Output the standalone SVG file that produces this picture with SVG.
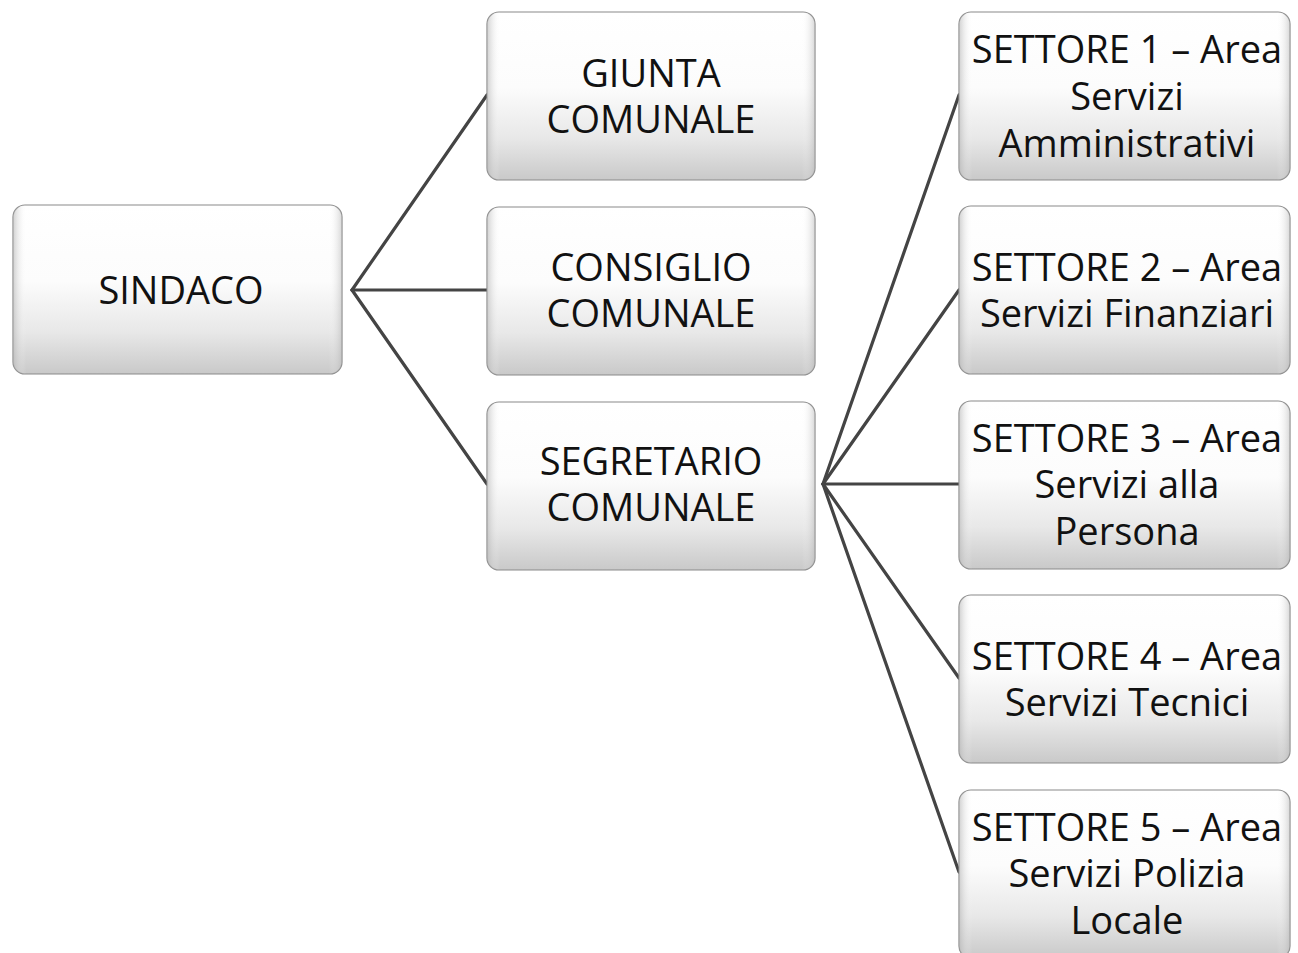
<svg xmlns="http://www.w3.org/2000/svg" width="1298" height="953" viewBox="0 0 1298 953">
  <defs>
    <linearGradient id="boxfill" x1="0" y1="0" x2="0" y2="1">
      <stop offset="0" stop-color="#ffffff"/>
      <stop offset="0.45" stop-color="#fcfcfc"/>
      <stop offset="0.75" stop-color="#e8e8e8"/>
      <stop offset="1" stop-color="#c9c9c9"/>
    </linearGradient>
    <linearGradient id="leftshade" x1="0" y1="0" x2="1" y2="0">
      <stop offset="0" stop-color="#b0b0b0" stop-opacity="0.6"/>
      <stop offset="0.04" stop-color="#ffffff" stop-opacity="0"/>
      <stop offset="0.96" stop-color="#ffffff" stop-opacity="0"/>
      <stop offset="1" stop-color="#b0b0b0" stop-opacity="0.5"/>
    </linearGradient>
  </defs>
  <style>
    .box { fill: url(#boxfill); stroke: #8a8a8a; stroke-width: 1.2; }
    .shade { fill: url(#leftshade); stroke: none; }
    .lbl { font-family: "Open Sans", "Noto Sans", sans-serif; font-size: 38px; fill: #111; text-anchor: middle; }
    .conn { stroke: #444; stroke-width: 3.2; fill: none; stroke-linecap: round; }
  </style>
  <rect width="1298" height="953" fill="#ffffff"/>

  <g id="connectors">
    <line class="conn" x1="352" y1="290" x2="487" y2="95"/>
    <line class="conn" x1="352" y1="290" x2="487" y2="290"/>
    <line class="conn" x1="352" y1="290" x2="487" y2="484"/>
    <line class="conn" x1="823" y1="484" x2="959" y2="95"/>
    <line class="conn" x1="823" y1="484" x2="959" y2="290"/>
    <line class="conn" x1="823" y1="484" x2="959" y2="484"/>
    <line class="conn" x1="823" y1="484" x2="959" y2="678"/>
    <line class="conn" x1="823" y1="484" x2="959" y2="872"/>
  </g>

  <g id="sindaco">
    <rect class="box" x="13" y="205" width="329" height="169" rx="12"/>
    <rect class="shade" x="13" y="205" width="329" height="169" rx="12"/>
    <text class="lbl" x="181" y="304" font-size="40">SINDACO</text>
  </g>

  <g id="giunta">
    <rect class="box" x="487" y="12" width="328" height="168" rx="12"/>
    <rect class="shade" x="487" y="12" width="328" height="168" rx="12"/>
    <text class="lbl" x="651" y="87">GIUNTA</text>
    <text class="lbl" x="651" y="133">COMUNALE</text>
  </g>

  <g id="consiglio">
    <rect class="box" x="487" y="207" width="328" height="168" rx="12"/>
    <rect class="shade" x="487" y="207" width="328" height="168" rx="12"/>
    <text class="lbl" x="651" y="281">CONSIGLIO</text>
    <text class="lbl" x="651" y="327">COMUNALE</text>
  </g>

  <g id="segretario">
    <rect class="box" x="487" y="402" width="328" height="168" rx="12"/>
    <rect class="shade" x="487" y="402" width="328" height="168" rx="12"/>
    <text class="lbl" x="651" y="475">SEGRETARIO</text>
    <text class="lbl" x="651" y="521">COMUNALE</text>
  </g>

  <g id="settore1">
    <rect class="box" x="959" y="12" width="331" height="168" rx="12"/>
    <rect class="shade" x="959" y="12" width="331" height="168" rx="12"/>
    <text class="lbl" x="1127" y="63">SETTORE 1 – Area</text>
    <text class="lbl" x="1127" y="110">Servizi</text>
    <text class="lbl" x="1127" y="157">Amministrativi</text>
  </g>

  <g id="settore2">
    <rect class="box" x="959" y="206" width="331" height="168" rx="12"/>
    <rect class="shade" x="959" y="206" width="331" height="168" rx="12"/>
    <text class="lbl" x="1127" y="281">SETTORE 2 – Area</text>
    <text class="lbl" x="1127" y="327">Servizi Finanziari</text>
  </g>

  <g id="settore3">
    <rect class="box" x="959" y="401" width="331" height="168" rx="12"/>
    <rect class="shade" x="959" y="401" width="331" height="168" rx="12"/>
    <text class="lbl" x="1127" y="452">SETTORE 3 – Area</text>
    <text class="lbl" x="1127" y="498">Servizi alla</text>
    <text class="lbl" x="1127" y="545">Persona</text>
  </g>

  <g id="settore4">
    <rect class="box" x="959" y="595" width="331" height="168" rx="12"/>
    <rect class="shade" x="959" y="595" width="331" height="168" rx="12"/>
    <text class="lbl" x="1127" y="670">SETTORE 4 – Area</text>
    <text class="lbl" x="1127" y="716">Servizi Tecnici</text>
  </g>

  <g id="settore5">
    <rect class="box" x="959" y="790" width="331" height="168" rx="12"/>
    <rect class="shade" x="959" y="790" width="331" height="168" rx="12"/>
    <text class="lbl" x="1127" y="841">SETTORE 5 – Area</text>
    <text class="lbl" x="1127" y="887">Servizi Polizia</text>
    <text class="lbl" x="1127" y="934">Locale</text>
  </g>
</svg>
